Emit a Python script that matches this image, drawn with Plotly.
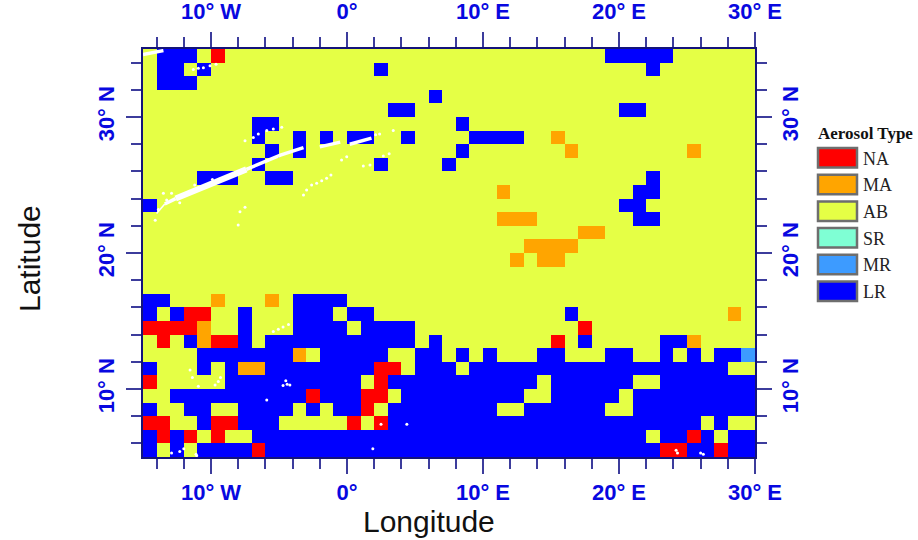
import plotly.graph_objects as go

type_names = ["NA", "MA", "AB", "SR", "MR", "LR"]
type_colors = ["#ff0000", "#ffa500", "#e5ff45", "#7fffd4", "#3d9bff", "#0000ff"]
codes = {"N": 0, "M": 1, ".": 2, "S": 3, "R": 4, "L": 5}

lons = [-14.5 + i for i in range(45)]
lats = [34.5 - i for i in range(30)]

B = ".........."
grid_rows = [
    ".LLL.N...." + B + B + "....LLLLL." + ".....",
    ".LL.L....." + ".......L.." + B + ".......L.." + ".....",
    ".LLL......" + B + B + B + ".....",
    B + B + ".L........" + B + ".....",
    B + "........LL" + B + ".....LL..." + ".....",
    "........LL" + B + "...L......" + B + ".....",
    "........L." + ".L.L.LL..L" + "....LLLL.." + "M........." + ".....",
    ".........L" + ".L........" + "...L......" + ".M........" + "M....",
    "........L." + ".......L.." + "..L......." + B + ".....",
    "....LLL..L" + "L........." + B + ".......L.." + ".....",
    B + B + "......M..." + "......LL.." + ".....",
    "L........." + B + B + ".....LL..." + ".....",
    B + B + "......MMM." + "......LL.." + ".....",
    B + B + B + "..MM......" + ".....",
    B + B + "........MM" + "MM........" + ".....",
    B + B + ".......M.M" + "M........." + ".....",
    B + B + B + B + ".....",
    B + B + B + B + ".....",
    "LL...M...M" + ".LLLL....." + B + B + ".....",
    "L.LNN..L.." + ".LLL.LL..." + B + ".L........" + "...M.",
    "NNNNM..L.." + ".LLLL.LLLL" + B + "..N......." + ".....",
    ".N.LMNNL.L" + "LLLLLLLLLL" + ".L........" + "N.L.....LL" + "M....",
    "....LLLLLL" + "LM.LLLLL.." + "LL.L.L...L" + "L...LL..L." + "L.LLR",
    "L...L.LMML" + "LLLLLLLNN." + "LLL.LLLLLL" + "LLLLLLLLLL" + "LLL..",
    "N.....LLLL" + "LLLLLL.NLL" + "LLLLLLLLL." + "LLLLLL..LL" + "LLLLL",
    "..LLLLLLLL" + "LLNLLLNN.L" + "LLLLLLLL.." + "LLLLL.LLLL" + "LLLLL",
    "L..LL..LLL" + "L.L.LLN.LL" + "LLLLLL..LL" + "LLLL..LLLL" + "LLLLL",
    "NN..LNNLLL" + ".....N.NLL" + "LLLLLLLLLL" + "LLLLLLLLLL" + "L.L..",
    "LNLN.N..LL" + "LLLLLLLLLL" + "LLLLLLLLLL" + "LLLLLLL.LL" + "NL.LL",
    "L.L.LLLLNL" + "LLLLLLLLLL" + "LLLLLLLLLL" + "LLLLLLLLNN" + "LLNLL",
]
z = [[codes[c] for c in row] for row in grid_rows]

x_major = [-10, 0, 10, 20, 30]
x_labels = ["10° W", "0°", "10° E", "20° E", "30° E"]
y_major = [10, 20, 30]
y_labels = ["10° N", "20° N", "30° N"]

# white no-data areas (lon, lat): streak cores as lines, scattered gaps as dots
gap_thick_lon = [-12.6, -11.5, -10.1, -8.7, -7.4]
gap_thick_lat = [24.0, 24.45, 25.0, 25.5, 26.15]
gap_mid_lon = [-13.4, -12.6, None, -7.4, -6.15, -4.9, -3.2, None, -2.0, -0.5, None, 0.2, 1.8, None, -15, -13.5]
gap_mid_lat = [23.6, 24.0, None, 26.15, 26.7, 27.2, 27.75, None, 27.8, 28.15, None, 28.0, 28.45, None, 34.6, 34.88]
gap_thin_lon = [-14.0, -13.4]
gap_thin_lat = [22.9, 23.6]
gap_dot_lon = [
    -3.2, -2.97, -2.6, -2.23, -1.86, -1.5, -1.18,
    1.2, 1.69, 2.67, 3.1, -0.4, -0.02, 2.1, 2.4, 3.4,
    -11.3, -10.93, -10.56, -10.07, -9.63,
    -7.5, -6.89, -6.52, -5.9, -5.42, -4.8,
    -7.87, -7.5, -8.0,
    -13.5, -13.26, -13.87, -14.1, -12.9, -12.3, -11.2, -9.9,
    -11.54, -11.37, -10.93, -9.7, -9.46, -9.3,
    -5.42, -5.05, -4.7, -4.3,
    -4.5, -4.2, -4.7, -4.4,
    -12.0, -11.1, -12.9, -12.3, -11.05,
    24.2, 24.3, 26.0, 26.2, 4.4, -5.9, 1.9, 2.5,
]
gap_dot_lat = [
    24.26, 24.63, 25.0, 25.12, 25.32, 25.49, 25.74,
    26.4, 26.47, 27.13, 27.3, 26.84, 27.08, 28.7, 28.75, 29.0,
    33.5, 33.58, 33.63, 33.77, 33.87,
    28.26, 28.5, 28.75, 29.0, 29.12, 29.24,
    23.04, 23.36, 22.06,
    24.4, 23.9, 23.2, 22.4, 24.4, 23.7, 25.0, 25.4,
    11.4, 10.85, 10.2, 10.3, 10.55, 10.85,
    14.22, 14.4, 14.55, 14.75,
    10.6, 10.3, 10.25, 10.35,
    5.6, 5.2, 5.3, 5.4, 5.1,
    5.5, 5.3, 5.3, 5.2, 7.4, 9.2, 5.6, 7.4,
]

PLOT_L, PLOT_R, PLOT_T, PLOT_B = 143, 755, 49, 457
W, H = 918, 540
frame = "#14147a"
tick_col = "#3c3c9c"
lab_font = dict(family="Liberation Sans", size=22, color="#0808e0", weight="bold")


def px_x(v):
    return (v - PLOT_L) / (PLOT_R - PLOT_L)


def px_y(v):
    return (PLOT_B - v) / (PLOT_B - PLOT_T)


fig = go.Figure()
steps = []
n = len(type_colors)
for i, c in enumerate(type_colors):
    steps += [[i / n, c], [(i + 1) / n, c]]
fig.add_trace(go.Heatmap(x=lons, y=lats, z=z, zmin=-0.5, zmax=5.5, colorscale=steps,
                         showscale=False, hoverinfo="skip"))
for xs, ys, w in [(gap_thick_lon, gap_thick_lat, 6), (gap_mid_lon, gap_mid_lat, 3.5), (gap_thin_lon, gap_thin_lat, 1.5)]:
    fig.add_trace(go.Scatter(x=xs, y=ys, mode="lines", line=dict(color="white", width=w),
                             showlegend=False, hoverinfo="skip"))
fig.add_trace(go.Scatter(x=gap_dot_lon, y=gap_dot_lat, mode="markers",
                         marker=dict(color="white", size=3), showlegend=False, hoverinfo="skip"))
# companion trace so that the top and right axes exist
fig.add_trace(go.Scatter(x=[-15], y=[5], xaxis="x2", yaxis="y2", mode="markers",
                         marker=dict(opacity=0), showlegend=False, hoverinfo="skip"))

x_common = dict(range=[-15, 30], tickmode="array", tickvals=x_major, ticktext=x_labels,
                ticks="outside", ticklen=15, tickwidth=1.5, tickcolor=tick_col, tickfont=lab_font,
                showgrid=False, zeroline=False, showline=True, linecolor=frame, linewidth=2,
                minor=dict(tick0=0, dtick=2, ticks="outside", ticklen=10, tickwidth=1.5,
                           tickcolor=tick_col, showgrid=False))
y_common = dict(range=[5, 35], tickmode="array", tickvals=y_major, ticktext=y_labels, tickangle=-90,
                ticks="outside", ticklen=15, tickwidth=1.5, tickcolor=tick_col, tickfont=lab_font,
                showgrid=False, zeroline=False, showline=True, linecolor=frame, linewidth=2,
                minor=dict(tick0=0, dtick=2, ticks="outside", ticklen=10, tickwidth=1.5,
                           tickcolor=tick_col, showgrid=False))

shapes = []
annotations = [
    dict(text="Longitude", x=px_x(429), y=px_y(521), xref="paper", yref="paper", showarrow=False,
         font=dict(family="Liberation Sans", size=30, color="#111111"), xanchor="center", yanchor="middle"),
    dict(text="Latitude", x=px_x(29), y=px_y(259), xref="paper", yref="paper", showarrow=False, textangle=-90,
         font=dict(family="Liberation Sans", size=30, color="#111111"), xanchor="center", yanchor="middle"),
    dict(text="Aerosol Type", x=px_x(816), y=px_y(133), xref="paper", yref="paper", showarrow=False,
         font=dict(family="Liberation Serif", size=17, color="#111111", weight="bold"),
         xanchor="left", yanchor="middle"),
]
for i, (name, col) in enumerate(zip(type_names, type_colors)):
    top = 148 + i * 26.7
    shapes.append(dict(type="rect", xref="paper", yref="paper", x0=px_x(818), x1=px_x(857),
                       y0=px_y(top), y1=px_y(top + 19.5), fillcolor=col,
                       line=dict(color="#6e6e6e", width=2.5)))
    annotations.append(dict(text=name, x=px_x(861), y=px_y(top + 10.5), xref="paper", yref="paper",
                            showarrow=False, xanchor="left", yanchor="middle",
                            font=dict(family="Liberation Serif", size=18, color="#222222")))

fig.update_layout(
    width=W, height=H, autosize=False, showlegend=False,
    paper_bgcolor="white", plot_bgcolor="white",
    margin=dict(l=PLOT_L, r=W - PLOT_R, t=PLOT_T, b=H - PLOT_B, pad=0, autoexpand=False),
    xaxis=dict(side="bottom", anchor="y", **x_common),
    yaxis=dict(side="left", anchor="x", ticklabelstandoff=3, **y_common),
    xaxis2=dict(side="top", overlaying="x", anchor="y", ticklabelstandoff=4, **x_common),
    yaxis2=dict(side="right", overlaying="y", anchor="x", **y_common),
    shapes=shapes, annotations=annotations,
)
fig.write_html("out.html", config=dict(displayModeBar=False),
               post_script="document.body.style.margin='0';")
